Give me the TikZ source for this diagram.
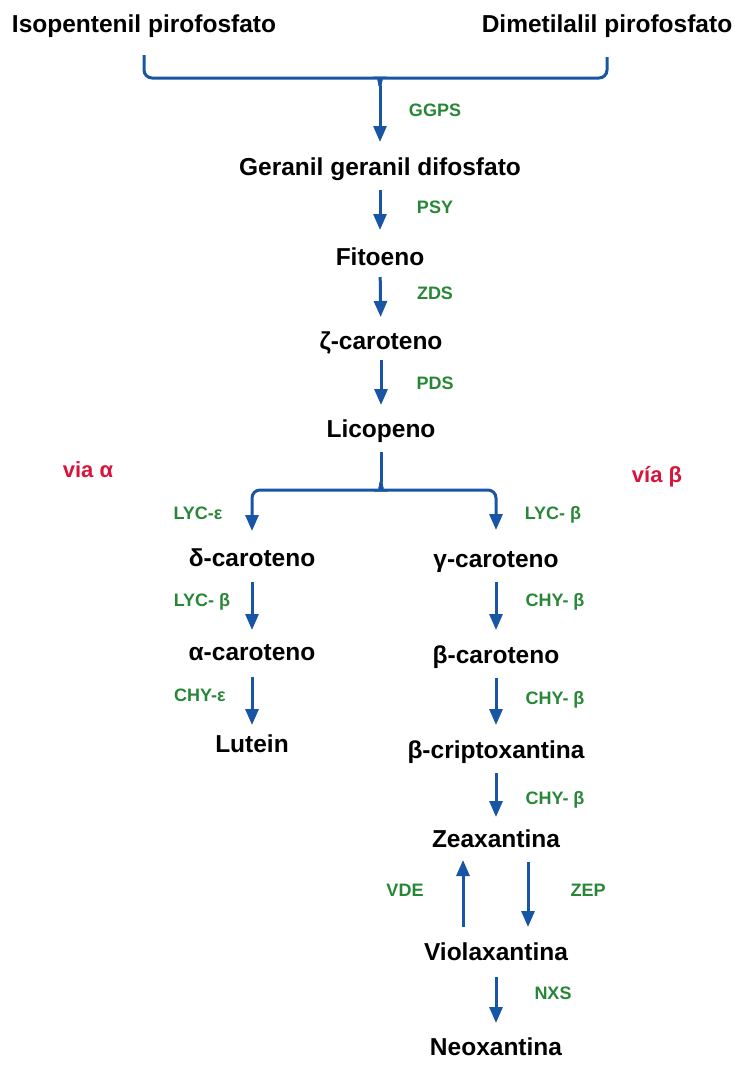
\documentclass[tikz,border=0pt]{standalone}
\usepackage{fontspec}
\setmainfont{Liberation Sans}
\usetikzlibrary{arrows.meta,calc}
\definecolor{flowblue}{RGB}{25,85,165}
\definecolor{enzgreen}{RGB}{40,135,55}
\definecolor{viared}{RGB}{215,20,60}
\begin{document}
\begin{tikzpicture}[x=1pt,y=-1pt,
  mol/.style={font=\bfseries\fontsize{24.5}{28}\selectfont, inner sep=0pt, text height=16.5pt, text depth=6pt},
  enz/.style={font=\bfseries\fontsize{18}{20}\selectfont, text=enzgreen, inner sep=0pt, text height=12.5pt, text depth=3.5pt},
  viatxt/.style={font=\bfseries\fontsize{22}{26}\selectfont, text=viared, inner sep=0pt, text height=16pt, text depth=5pt},
  link/.style={draw=flowblue, line width=3pt},
  arr/.style={link, -{Triangle[length=16pt,width=13pt]}},
]
\useasboundingbox[fill=white] (0,0) rectangle (735,1068);

% molecules
\node[mol] (iso)   at (144,27)  {Isopentenil pirofosfato};
\node[mol] (dim)   at (607,27)  {Dimetilalil pirofosfato};
\node[mol] (ger)   at (380,170) {Geranil geranil difosfato};
\node[mol] (fit)   at (380,260) {Fitoeno};
\node[mol] (zeta)  at (381,344) {ζ-caroteno};
\node[mol] (lic)   at (381,432) {Licopeno};
\node[mol] (delta) at (252,561) {δ-caroteno};
\node[mol] (gamma) at (496,562) {γ-caroteno};
\node[mol] (alpha) at (252,655) {α-caroteno};
\node[mol] (betac) at (496,658) {β-caroteno};
\node[mol] (lut)   at (252,747) {Lutein};
\node[mol] (crip)  at (496,753) {β-criptoxantina};
\node[mol] (zea)   at (496,842) {Zeaxantina};
\node[mol] (viola) at (496,955) {Violaxantina};
\node[mol] (neo)   at (496,1050) {Neoxantina};

% pathway labels
\node[viatxt] (va) at (88,472)  {via α};
\node[viatxt] (vb) at (657,477) {vía β};

% enzymes
\node[enz] (e1)  at (435,112) {GGPS};
\node[enz] (e2)  at (435,209) {PSY};
\node[enz] (e3)  at (435,295) {ZDS};
\node[enz] (e4)  at (435,385) {PDS};
\node[enz] (e5)  at (198,515) {LYC-ε};
\node[enz] (e6)  at (553,515) {LYC- β};
\node[enz] (e7)  at (202,602) {LYC- β};
\node[enz] (e8)  at (555,602) {CHY- β};
\node[enz] (e9)  at (200,697) {CHY-ε};
\node[enz] (e10) at (555,700) {CHY- β};
\node[enz] (e11) at (555,800) {CHY- β};
\node[enz] (e12) at (405,892) {VDE};
\node[enz] (e13) at (588,892) {ZEP};
\node[enz] (e14) at (553,995) {NXS};

% top brace
\coordinate (topcusp) at (380,86);
\draw[link, rounded corners=8pt] ($(iso.center)+(0,28)$) |- (372,78) .. controls (377,78) and (380,81) .. (topcusp);
\draw[link, rounded corners=8pt] ($(dim.center)+(0,30)$) |- (388,78) .. controls (383,78) and (380,81) .. (topcusp);
\draw[arr, shorten >=28pt] (topcusp) -- (ger.center);

% main trunk
\draw[arr, shorten <=20pt, shorten >=30pt] (ger.center) -- (fit.center);
\draw[arr, shorten <=17pt, shorten >=27pt] (fit.center) -- (zeta.center);
\draw[arr, shorten <=16pt, shorten >=27pt] (zeta.center) -- (lic.center);

% branch
\coordinate (midcusp) at (381,482);
\draw[link, shorten <=20pt] (lic.center) -- (midcusp);
\draw[arr, rounded corners=8pt, shorten >=30pt] (midcusp) .. controls (381,487) and (378,490) .. (373,490) -| (delta.center);
\draw[arr, rounded corners=8pt, shorten >=32pt] (midcusp) .. controls (381,487) and (384,490) .. (389,490) -| (gamma.center);

% alpha branch
\draw[arr, shorten <=21pt, shorten >=25pt] (delta.center) -- (alpha.center);
\draw[arr, shorten <=22pt, shorten >=22pt] (alpha.center) -- (lut.center);

% beta branch
\draw[arr, shorten <=20pt, shorten >=28pt] (gamma.center) -- (betac.center);
\draw[arr, shorten <=20pt, shorten >=28pt] (betac.center) -- (crip.center);
\draw[arr, shorten <=20pt, shorten >=25pt] (crip.center) -- (zea.center);
\draw[arr, shorten <=28pt, shorten >=18pt] ([xshift=-33pt]viola.center) -- ([xshift=-33pt]zea.center);
\draw[arr, shorten <=20pt, shorten >=28pt] ([xshift=32pt]zea.center) -- ([xshift=32pt]viola.center);
\draw[arr, shorten <=22pt, shorten >=27pt] (viola.center) -- (neo.center);
\end{tikzpicture}
\end{document}
